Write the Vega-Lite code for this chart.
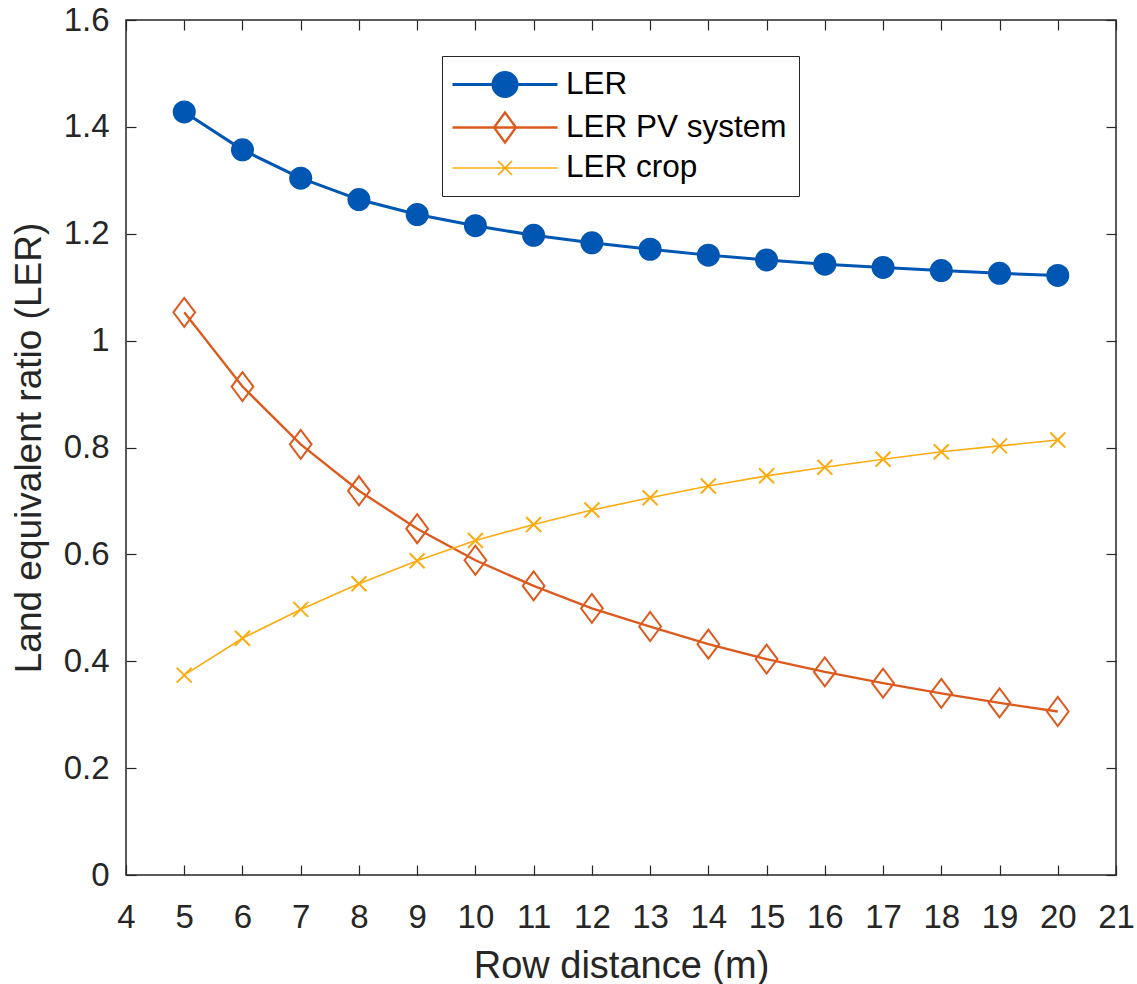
{
  "$schema": "https://vega.github.io/schema/vega-lite/v6.json",
  "width": 990,
  "height": 855,
  "autosize": "none",
  "padding": {"left": 126, "top": 20, "right": 21, "bottom": 109},
  "background": "white",
  "config": {
    "view": {"stroke": "#262626", "strokeWidth": 1.5},
    "font": "Liberation Sans",
    "axis": {
      "grid": false,
      "domain": false,
      "tickSize": -10,
      "tickColor": "#262626",
      "tickWidth": 1.2,
      "labelFont": "Liberation Sans",
      "labelFontSize": 33,
      "labelColor": "#262626",
      "titleFont": "Liberation Sans",
      "titleFontWeight": "normal",
      "titleColor": "#262626"
    }
  },
  "data": {
    "values": [
      {"x": 5, "series": "LER", "value": 1.428},
      {"x": 6, "series": "LER", "value": 1.357},
      {"x": 7, "series": "LER", "value": 1.304},
      {"x": 8, "series": "LER", "value": 1.264},
      {"x": 9, "series": "LER", "value": 1.236},
      {"x": 10, "series": "LER", "value": 1.215},
      {"x": 11, "series": "LER", "value": 1.197},
      {"x": 12, "series": "LER", "value": 1.183},
      {"x": 13, "series": "LER", "value": 1.171},
      {"x": 14, "series": "LER", "value": 1.160},
      {"x": 15, "series": "LER", "value": 1.151},
      {"x": 16, "series": "LER", "value": 1.143},
      {"x": 17, "series": "LER", "value": 1.137},
      {"x": 18, "series": "LER", "value": 1.131},
      {"x": 19, "series": "LER", "value": 1.126},
      {"x": 20, "series": "LER", "value": 1.122},
      {"x": 5, "series": "LER PV system", "value": 1.053},
      {"x": 6, "series": "LER PV system", "value": 0.914},
      {"x": 7, "series": "LER PV system", "value": 0.806},
      {"x": 8, "series": "LER PV system", "value": 0.719},
      {"x": 9, "series": "LER PV system", "value": 0.648},
      {"x": 10, "series": "LER PV system", "value": 0.589},
      {"x": 11, "series": "LER PV system", "value": 0.541},
      {"x": 12, "series": "LER PV system", "value": 0.499},
      {"x": 13, "series": "LER PV system", "value": 0.465},
      {"x": 14, "series": "LER PV system", "value": 0.432},
      {"x": 15, "series": "LER PV system", "value": 0.404},
      {"x": 16, "series": "LER PV system", "value": 0.380},
      {"x": 17, "series": "LER PV system", "value": 0.359},
      {"x": 18, "series": "LER PV system", "value": 0.340},
      {"x": 19, "series": "LER PV system", "value": 0.322},
      {"x": 20, "series": "LER PV system", "value": 0.306},
      {"x": 5, "series": "LER crop", "value": 0.374},
      {"x": 6, "series": "LER crop", "value": 0.443},
      {"x": 7, "series": "LER crop", "value": 0.497},
      {"x": 8, "series": "LER crop", "value": 0.545},
      {"x": 9, "series": "LER crop", "value": 0.588},
      {"x": 10, "series": "LER crop", "value": 0.626},
      {"x": 11, "series": "LER crop", "value": 0.656},
      {"x": 12, "series": "LER crop", "value": 0.683},
      {"x": 13, "series": "LER crop", "value": 0.706},
      {"x": 14, "series": "LER crop", "value": 0.728},
      {"x": 15, "series": "LER crop", "value": 0.747},
      {"x": 16, "series": "LER crop", "value": 0.763},
      {"x": 17, "series": "LER crop", "value": 0.778},
      {"x": 18, "series": "LER crop", "value": 0.792},
      {"x": 19, "series": "LER crop", "value": 0.803},
      {"x": 20, "series": "LER crop", "value": 0.814}
    ]
  },
  "layer": [
    {
      "encoding": {
        "x": {
          "field": "x", "type": "quantitative",
          "scale": {"domain": [4, 21], "nice": false, "zero": false},
          "axis": {"values": [4,5,6,7,8,9,10,11,12,13,14,15,16,17,18,19,20,21], "format": "d", "labelPadding": 36, "labelFlush": false, "title": "Row distance (m)", "titleFontSize": 38, "titlePadding": 13}
        },
        "y": {
          "field": "value", "type": "quantitative",
          "scale": {"domain": [0, 1.6], "nice": false},
          "axis": {"values": [0, 0.2, 0.4, 0.6, 0.8, 1, 1.2, 1.4, 1.6], "format": "~g", "labelPadding": 27, "title": "Land equivalent ratio (LER)", "titleFontSize": 37, "titlePadding": 15}
        }
      },
      "layer": [
        {
          "mark": {"type": "line"},
          "encoding": {
            "stroke": {
              "field": "series", "type": "nominal",
              "scale": {"domain": ["LER", "LER PV system", "LER crop"], "range": ["#0056B3", "#DD5A1F", "#FCAC12"]},
              "legend": {
                "title": null,
                "orient": "none",
                "legendX": 316,
                "legendY": 36,
                "direction": "vertical",
                "fillColor": "white",
                "strokeColor": "#262626",
                "padding": 12,
                "symbolSize": 900,
                "labelFont": "Liberation Sans",
                "labelFontSize": 31.5,
                "labelColor": "black",
                "labelLimit": 500,
                "labelOffset": 79,
                "rowPadding": 4,
                "encode": {
                  "symbols": {
                    "update": {
                      "shape": {"signal": "datum.value === 'LER' ? 'M-1.2,0H5.8M3.1,0A0.8,0.8,0,1,1,1.5,0A0.8,0.8,0,1,1,3.1,0Z' : datum.value === 'LER PV system' ? 'M-1.2,0H5.8M1.57,0L2.3,-1L3.03,0L2.3,1Z' : 'M-1.2,0H5.8M1.83,-0.47L2.77,0.47M1.83,0.47L2.77,-0.47'"},
                      "fill": {"signal": "datum.value === 'LER' ? '#0056B3' : 'transparent'"},
                      "strokeWidth": {"signal": "datum.value === 'LER' ? 3 : 1.8"},
                      "opacity": {"value": 1}
                    }
                  }
                }
              }
            },
            "strokeWidth": {
              "field": "series", "type": "nominal",
              "scale": {"domain": ["LER", "LER PV system", "LER crop"], "range": [3, 1.7, 1.7]},
              "legend": null
            }
          }
        },
        {
          "transform": [{"filter": "datum.series === 'LER'"}],
          "mark": {"type": "point", "shape": "circle", "size": 529, "filled": true, "fill": "#0056B3", "strokeWidth": 0, "opacity": 1},
          "encoding": {}
        },
        {
          "transform": [{"filter": "datum.series === 'LER PV system'"}],
          "mark": {"type": "point", "shape": "M-0.75,0L0,-1L0.75,0L0,1Z", "size": 841, "filled": false, "stroke": "#DD5A1F", "strokeWidth": 2, "opacity": 1},
          "encoding": {}
        },
        {
          "transform": [{"filter": "datum.series === 'LER crop'"}],
          "mark": {"type": "point", "shape": "M-1,-1L1,1M-1,1L1,-1", "size": 225, "filled": false, "stroke": "#FCAC12", "strokeWidth": 2, "opacity": 1},
          "encoding": {}
        }
      ]
    },
    {
      "mark": {"type": "point", "opacity": 0},
      "encoding": {
        "x": {
          "field": "x", "type": "quantitative",
          "axis": {"orient": "top", "values": [4,5,6,7,8,9,10,11,12,13,14,15,16,17,18,19,20,21], "labels": false, "title": null}
        },
        "y": {
          "field": "value", "type": "quantitative",
          "axis": {"orient": "right", "values": [0, 0.2, 0.4, 0.6, 0.8, 1, 1.2, 1.4, 1.6], "labels": false, "title": null}
        }
      }
    }
  ],
  "resolve": {"axis": {"x": "independent", "y": "independent"}}
}
